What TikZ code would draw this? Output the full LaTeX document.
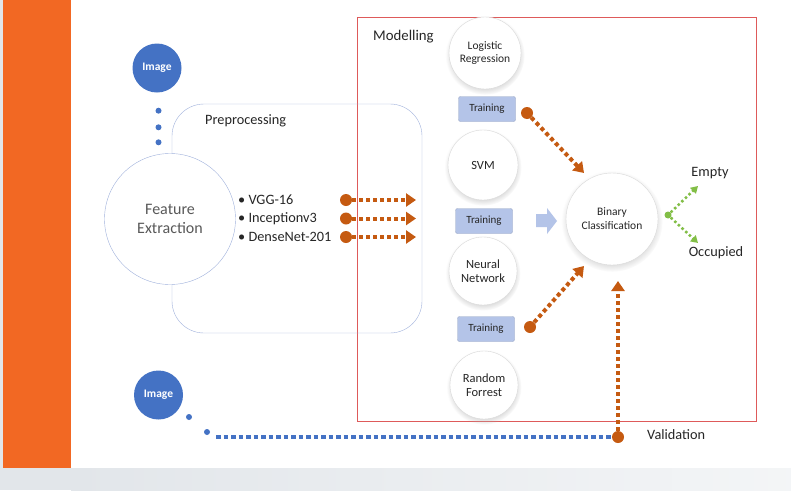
\documentclass[tikz,border=0pt]{standalone}
\usepackage{fontspec}
\setmainfont{Carlito}
\usepackage{tikz}
\usetikzlibrary{positioning}
\usetikzlibrary{arrows.meta}
\usetikzlibrary{shadows}
\definecolor{stripe}{RGB}{242,104,35}
\definecolor{pagegray}{RGB}{226,230,234}
\definecolor{imgblue}{RGB}{68,114,196}
\definecolor{rust}{RGB}{197,90,17}
\definecolor{leaf}{RGB}{130,190,70}
\definecolor{boxred}{RGB}{222,90,90}
\definecolor{prepblue}{RGB}{160,178,220}
\definecolor{trainblue}{RGB}{180,196,232}
\definecolor{txtgray}{RGB}{89,89,89}
\definecolor{txtdark}{RGB}{38,38,38}

\begin{document}
\begin{tikzpicture}[x=1pt, y=-1pt,
img/.style={circle,fill=imgblue,text=white,inner sep=0pt,minimum size=49pt,font=\bfseries\fontsize{11.5}{13}\selectfont},
model/.style={circle,draw=gray!30,fill=white,inner sep=0pt,minimum size=#1,align=center,text=txtdark,
  circular drop shadow={shadow xshift=0pt,shadow yshift=-2pt,fill=gray!60,opacity=0.4},font=\fontsize{12.5}{14.5}\selectfont},
trainbox/.style={rectangle,rounded corners=2pt,fill=trainblue,draw=trainblue!85!black,minimum width=57pt,minimum height=25pt,inner sep=0pt,text=txtdark,font=\fontsize{11}{13}\selectfont},
rdot/.style={circle,fill=rust,inner sep=0pt,minimum size=12pt},
bdot/.style={circle,fill=imgblue,inner sep=0pt,minimum size=6pt},
gdot/.style={circle,fill=leaf,inner sep=0pt,minimum size=7pt},
label/.style={inner sep=0pt,text=txtdark,font=\fontsize{14.3}{16}\selectfont},
rustflow/.style={rust,line width=4pt,dash pattern=on 4pt off 3pt,-{Triangle[length=10pt,width=13pt]}},
leafflow/.style={leaf,line width=2.5pt,dash pattern=on 2.5pt off 2.5pt,-{Triangle[length=7pt,width=8pt]}}]
\useasboundingbox (0,0) rectangle (791,490);

% page
\fill[pagegray] (0,0) rectangle (791,490);
\fill[white] (71,0) rectangle (791,468);
\fill[stripe] (3,0) rectangle (71,468);
\shade[left color=pagegray,right color=pagegray!40] (71,468) rectangle (791,490);

% frames
\draw[boxred,thin] (357,17) rectangle (756,421);
\draw[prepblue,thin,rounded corners=32pt] (172,104) rectangle (422,333);
\node[label,anchor=west] (prep) at (205,121) {Preprocessing};
\node[label,anchor=west,font=\fontsize{14.8}{16}\selectfont] (modl) at (373,37) {Modelling};

% inputs
\node[img] (img1) at (157,68) {Image};
\foreach \y in {110.7,127.3,142.3}
  \node[bdot] at (158.5,\y) {};
\node[circle,draw=prepblue,fill=white,minimum size=131pt,inner sep=0pt,align=center,text=txtgray,
  font=\fontsize{16}{19}\selectfont] (feat) at (170,219) {Feature\\Extraction};

\begin{scope}[label/.append style={anchor=west}]
\node[label] (vgg) at (238,200) {\textbullet\ VGG-16};
\node[label] (incep) at (238,218.5) {\textbullet\ Inceptionv3};
\node[label] (dense) at (238,237) {\textbullet\ DenseNet-201};
\end{scope}

% feature flows
\node[rdot] (vggdot) at (346,200) {};
\node[rdot] (incepdot) at (346,218.5) {};
\node[rdot] (densedot) at (346,237) {};
\coordinate (vggtip) at (416,200);
\coordinate (inceptip) at (416,218.5);
\coordinate (densetip) at (416,237);
\draw[rustflow] (vggdot) -- (vggtip);
\draw[rustflow] (incepdot) -- (inceptip);
\draw[rustflow] (densedot) -- (densetip);

% models
\node[model=72pt,font=\fontsize{11.5}{13.5}\selectfont] (logreg) at (485,53) {Logistic\\Regression};
\node[trainbox] (train1) at (487,109) {Training};
\node[model=70pt] (svm) at (483,165) {SVM};
\node[trainbox] (train2) at (484,221) {Training};
\node[model=68pt] (nnet) at (483,271) {Neural\\Network};
\node[trainbox] (train3) at (486,329) {Training};
\node[model=68pt] (rforest) at (484,385) {Random\\Forrest};

\fill[trainblue] (536,214) -- (547,214) -- (547,208) -- (557,221) -- (547,234) -- (547,227) -- (536,227) -- cycle;

\node[model=92pt,font=\fontsize{11.5}{14}\selectfont] (binary) at (612,219) {Binary\\Classification};

% training flows
\node[rdot] (tr1dot) at (527,113) {};
\node[rdot] (tr3dot) at (530,327) {};
\coordinate (tr1tip) at (584,173);
\coordinate (tr3tip) at (584,266);
\draw[rustflow] (tr1dot) -- (tr1tip);
\draw[rustflow] (tr3dot) -- (tr3tip);

% outputs
\node[gdot] (outdot) at (668,215) {};
\coordinate (emptytip) at (698,186);
\coordinate (occtip) at (698,243);
\draw[leafflow] (outdot) -- (emptytip);
\draw[leafflow] (outdot) -- (occtip);
\node[label] (empty) at (710,173) {Empty};
\node[label] (occ) at (716,253) {Occupied};

% validation
\node[img] (img2) at (158.5,395) {Image};
\node[bdot] (vd1) at (189,417) {};
\node[bdot] (vd2) at (207,432) {};
\coordinate (valstart) at (216,437);
\node[rdot] (valdot) at (618,437) {};
\coordinate (valtip) at (618,281);
\draw[imgblue,line width=4pt,dash pattern=on 4.5pt off 3pt] (valstart) -- (valdot);
\draw[rustflow] (valdot) -- (valtip);
\node[label,anchor=west] (val) at (647,435) {Validation};
\end{tikzpicture}
\end{document}
